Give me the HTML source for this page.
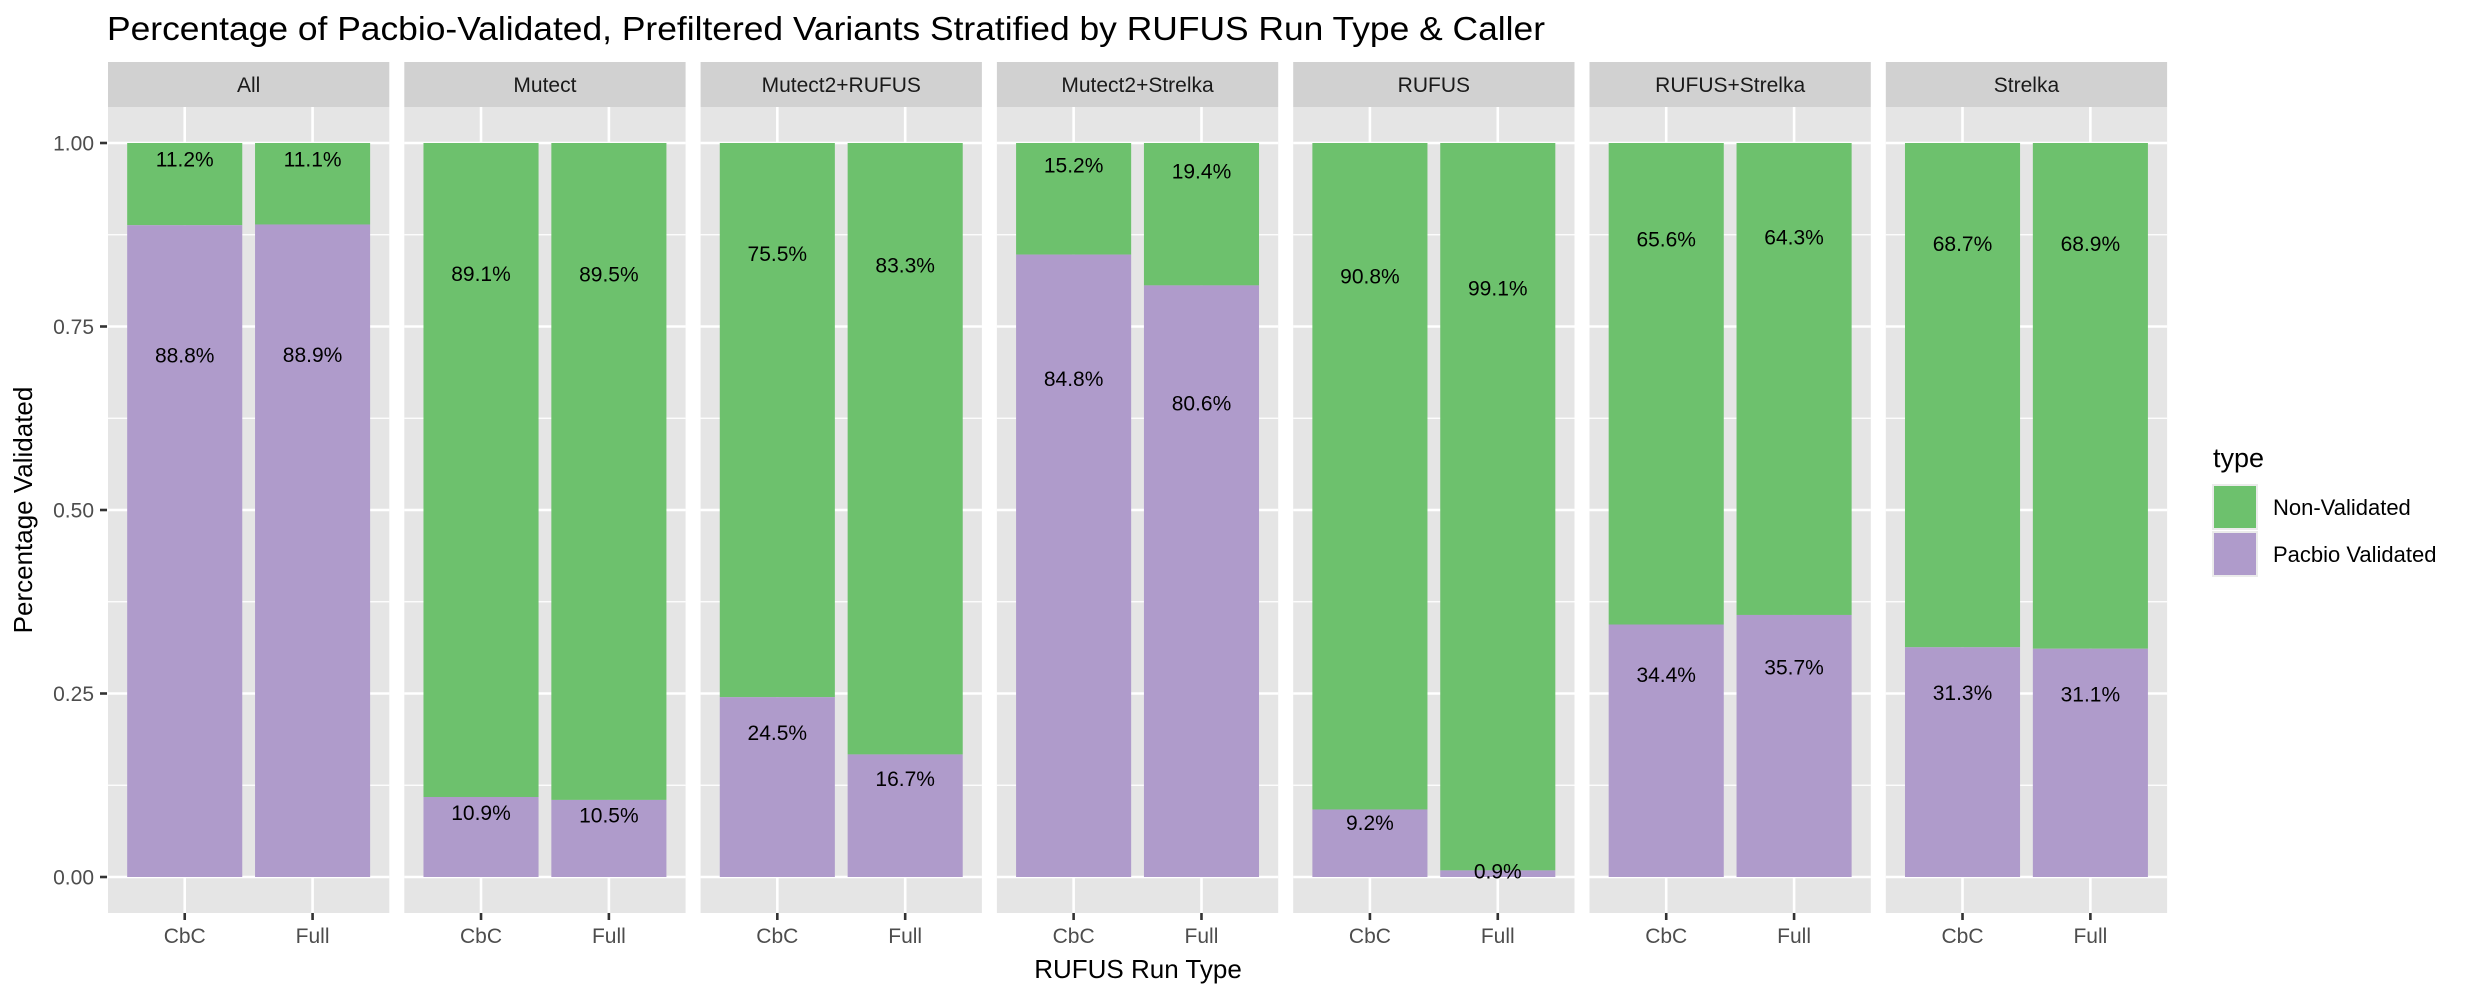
<!DOCTYPE html>
<html><head><meta charset="utf-8"><style>
html,body{margin:0;padding:0;background:#fff;}
svg{display:block;font-family:"Liberation Sans",Arial,sans-serif;}
</style></head><body>
<svg id="chart" width="2478" height="998" viewBox="0 0 2478 998">
<text x="107" y="40" font-size="33" fill="#000" textLength="1438" lengthAdjust="spacingAndGlyphs">Percentage of Pacbio-Validated, Prefiltered Variants Stratified by RUFUS Run Type &amp; Caller</text>
<text transform="translate(32,510) rotate(-90)" text-anchor="middle" font-size="26" fill="#000">Percentage Validated</text>
<text x="1138" y="978" text-anchor="middle" font-size="26" fill="#000">RUFUS Run Type</text>
<g id="panels"></g>
<g id="yaxis"></g>
<g>
<text x="2213" y="467" font-size="27" fill="#000">type</text>
<rect x="2212" y="484" width="46" height="46" fill="#EBEBEB"/>
<rect x="2214" y="486" width="42" height="42" fill="#6DC16D"/>
<text x="2273" y="515" font-size="22" fill="#000">Non-Validated</text>
<rect x="2212" y="531" width="46" height="46" fill="#EBEBEB"/>
<rect x="2214" y="533" width="42" height="42" fill="#AF9BCB"/>
<text x="2273" y="562" font-size="22" fill="#000">Pacbio Validated</text>
</g>
</svg>
<script>
const callers = ["All","Mutect","Mutect2+RUFUS","Mutect2+Strelka","RUFUS","RUFUS+Strelka","Strelka"];
const runTypes = ["CbC","Full"];
const pacbioCbC = [0.888,0.109,0.245,0.848,0.092,0.344,0.313];
const pacbioFull = [0.889,0.105,0.167,0.806,0.009,0.357,0.311];
const yTicks = [0,0.25,0.5,0.75,1];
const yTickLabels = ["0.00","0.25","0.50","0.75","1.00"];

const NS="http://www.w3.org/2000/svg";
const PANEL_L=108, PANEL_W=281.3, PANEL_STEP=296.3, PANEL_T=107, PANEL_B=913, STRIP_T=62;
const Y0=877, Y1=143;
function yScale(v){return Y0+(Y1-Y0)*v;}
function xScale(p,i){const u=PANEL_W/2.2;return PANEL_L+p*PANEL_STEP+(i+1-0.4)*u;}
const unitW=PANEL_W/2.2;
function mk(tag,attrs,parent){const e=document.createElementNS(NS,tag);for(const k in attrs)e.setAttribute(k,attrs[k]);parent.appendChild(e);return e;}
const panels=document.getElementById('panels');
const GREEN="#6DC16D", PURPLE="#AF9BCB";
callers.forEach((c,p)=>{
  const g=mk('g',{},panels);
  
  
  const px=PANEL_L+p*PANEL_STEP;
  const bg=mk('rect',{x:px,y:PANEL_T,width:PANEL_W,height:PANEL_B-PANEL_T,fill:"#E5E5E5"},g);
  
  
  const st=mk('rect',{x:px,y:STRIP_T,width:PANEL_W,height:PANEL_T-STRIP_T,fill:"#D1D1D1"},g);
  
  
  const stt=mk('text',{x:px+PANEL_W/2,y:92,'text-anchor':'middle','font-size':21,fill:'#1A1A1A'},g);
  stt.textContent=c;
  
  
  for(let k=0;k<4;k++){const v=0.125+0.25*k;
    const l=mk('line',{x1:px,x2:px+PANEL_W,y1:yScale(v),y2:yScale(v),stroke:'#fff','stroke-width':1.3},g);
    
    }
  yTicks.forEach(v=>{
    const l=mk('line',{x1:px,x2:px+PANEL_W,y1:yScale(v),y2:yScale(v),stroke:'#fff','stroke-width':2.6},g);
    
    });
  runTypes.forEach((r,i)=>{
    const cx=xScale(p,i);
    const l=mk('line',{x1:cx,x2:cx,y1:PANEL_T,y2:PANEL_B,stroke:'#fff','stroke-width':2.6},g);
    
    
    const pv=(i===0?pacbioCbC:pacbioFull)[p];
    const bw=0.9*unitW, bx=cx-bw/2;
    const gb=mk('rect',{x:bx,y:yScale(1),width:bw,height:yScale(pv)-yScale(1),fill:GREEN},g);
    
    
    const pb=mk('rect',{x:bx,y:yScale(pv),width:bw,height:yScale(0)-yScale(pv),fill:PURPLE},g);
    
    
    const nv=1-pv;
    const t1=mk('text',{x:cx,y:yScale(1-0.2*nv)+7,'text-anchor':'middle','font-size':21,fill:'#000'},g);
    t1.textContent=(nv*100).toFixed(1)+'%';
    
    
    const t2=mk('text',{x:cx,y:yScale(0.8*pv)+7,'text-anchor':'middle','font-size':21,fill:'#000'},g);
    t2.textContent=(pv*100).toFixed(1)+'%';
    
    
    const tk=mk('line',{x1:cx,x2:cx,y1:PANEL_B,y2:PANEL_B+7,stroke:'#333','stroke-width':2.6},g);
    
    
    const tl=mk('text',{x:cx,y:943,'text-anchor':'middle','font-size':21,fill:'#4D4D4D'},g);
    tl.textContent=r;
    
    
  });
});
const ya=document.getElementById('yaxis');


yTicks.forEach((v,i)=>{
  const tk=mk('line',{x1:100,x2:107,y1:yScale(v),y2:yScale(v),stroke:'#333','stroke-width':2.6},ya);
  
  
  const t=mk('text',{x:94,y:yScale(v)+7.5,'text-anchor':'end','font-size':21,fill:'#4D4D4D'},ya);
  t.textContent=yTickLabels[i];
  
  
});
</script>
</body></html>
